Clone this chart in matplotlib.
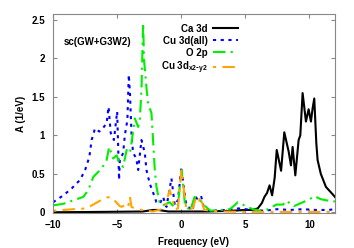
import matplotlib
matplotlib.use("Agg")
import matplotlib.pyplot as plt

plt.rcParams['font.family'] = ['Liberation Sans', 'DejaVu Sans']
plt.rcParams['font.weight'] = 'bold'

# Ca 3d
ca_x = [-10, -6, -3, -2.2, -1.8, -1, 0, 2, 4, 5.0, 5.5, 5.98, 6.3, 6.5, 6.7, 6.9,
        7.1, 7.3, 7.46, 7.8, 8.05, 8.39, 8.57, 8.7, 8.91, 9.17, 9.3, 9.48, 9.74,
        9.95, 10.13, 10.26, 10.39, 10.55, 10.65, 10.9, 11.3, 11.9, 12]
ca_y = [0.0, 0.005, 0.01, 0.03, 0.03, 0.01, 0.01, 0.01, 0.02, 0.03, 0.03, 0.05,
        0.12, 0.2, 0.25, 0.35, 0.22, 0.45, 0.81, 0.54, 1.04, 0.79, 0.61, 0.85,
        0.48, 0.94, 1.0, 1.55, 1.18, 1.34, 1.18, 1.35, 1.48, 0.9, 0.68, 0.5,
        0.33, 0.22, 0.2]

# Cu 3d(all)
cu_x = [-10, -9.2, -8.55, -7.9, -7.5, -7.17, -6.99, -6.73, -6.4, -6.21, -5.82,
        -5.67, -5.5, -5.25, -5.0, -4.92, -4.85, -4.79, -4.53, -4.4, -4.2, -4.09,
        -4.0, -3.87, -3.75, -3.5, -3.36, -3.1, -2.84, -2.71, -2.45, -2.2, -1.93,
        -1.67, -1.42, -1.15, -0.76, -0.5, -0.25, 0.02, 0.2, 0.4, 0.9, 1.05, 1.3,
        1.57, 1.8, 2.5, 3.5, 4.5, 5.5, 6.5, 7.5, 8.5, 9.5, 10.5, 11.5, 12]
cu_y = [0.13, 0.22, 0.31, 0.42, 0.55, 0.72, 0.94, 1.09, 1.05, 1.07, 1.16, 1.37,
        1.03, 0.94, 1.31, 0.85, 0.42, 0.68, 0.77, 1.0, 1.2, 1.79, 1.55, 0.98,
        0.77, 0.7, 0.55, 0.94, 0.77, 0.55, 0.37, 0.26, 0.13, 0.11, 0.2, 0.07,
        0.44, 0.09, 0.16, 0.59, 0.33, 0.09, 0.02, 0.22, 0.16, 0.2, 0.04, 0.02,
        0.03, 0.05, 0.03, 0.02, 0.04, 0.03, 0.04, 0.03, 0.03, 0.04]

# O 2p
o_x = [-10, -9.2, -8.16, -7.64, -7.25, -6.86, -6.21, -5.82, -5.62, -5.31, -5.04,
       -4.79, -4.53, -4.26, -4.0, -3.88, -3.62, -3.36, -3.23, -3.1, -2.97, -2.9,
       -2.84, -2.7, -2.58, -2.45, -2.32, -2.06, -1.93, -1.67, -1.42, -0.9, -0.5,
       -0.25, 0.02, 0.3, 0.7, 1.05, 1.4, 2.0, 2.3, 3.1, 3.8, 4.16, 4.42, 4.8,
       5.3, 5.6, 6.2, 6.8, 7.43, 7.96, 8.2, 8.8, 9.5, 10.03, 10.4, 10.9, 11.5,
       12]
o_y = [0.09, 0.11, 0.17, 0.2, 0.29, 0.46, 0.57, 0.68, 0.85, 0.7, 0.74, 0.63,
       0.59, 0.81, 0.77, 0.9, 1.22, 1.11, 1.2, 1.6, 2.46, 1.98, 1.87, 1.6, 1.42,
       1.35, 1.29, 0.55, 0.33, 0.11, 0.09, 0.13, 0.06, 0.1, 0.55, 0.1, 0.02,
       0.2, 0.17, 0.06, 0.02, 0.03, 0.04, 0.09, 0.13, 0.1, 0.06, 0.04, 0.02,
       0.04, 0.1, 0.1, 0.15, 0.08, 0.13, 0.17, 0.21, 0.17, 0.15, 0.14]

# Cu 3d x2-y2
dx_x = [-10, -8.4, -7.4, -6.34, -5.82, -5.56, -5.3, -4.79, -4.66, -4.27, -4.14,
        -4.0, -3.88, -3.75, -3.1, -2.2, -1.28, -0.9, -0.64, -0.5, -0.25, 0.02,
        0.15, 0.4, 0.9, 1.18, 1.4, 1.5, 1.8, 3, 5, 8, 12]
dx_y = [0.02, 0.04, 0.05, 0.15, 0.19, 0.2, 0.17, 0.08, 0.07, 0.1, 0.07, 0.2,
        0.07, 0.06, 0.03, 0.01, 0.05, 0.29, 0.14, 0.04, 0.05, 0.55, 0.37, 0.04,
        0.05, 0.2, 0.15, 0.2, 0.03, 0.01, 0.005, 0.005, 0.005]

fig = plt.figure(figsize=(3.54, 2.48), dpi=100)
ax = fig.add_axes([0.150, 0.141, 0.796, 0.803])

ax.plot(ca_x, ca_y, color='black', lw=1.5, label='Ca 3d')
ax.plot(cu_x, cu_y, color='#0000ff', lw=1.5, linestyle=(0, (1.5, 2.2)),
        label='Cu 3d(all)')
ax.plot(o_x, o_y, color='#00ee00', lw=1.5, linestyle=(0, (6, 2.5, 1, 2.5)),
        label='O 2p')
ax.plot(dx_x, dx_y, color='#ffa500', lw=1.5, linestyle=(0, (1.5, 3, 6, 3)),
        label=r'Cu 3d$_{\mathregular{x2\text{-}y2}}$')

ax.set_xlim(-10, 12)
ax.set_ylim(-0.01, 2.58)
ax.set_xticks([-10, -5, 0, 5, 10])
ax.set_yticks([0, 0.5, 1, 1.5, 2, 2.5])
ax.set_yticklabels(['0', '0.5', '1', '1.5', '2', '2.5'])
ax.tick_params(direction='in', top=True, right=True, labelsize=7, length=3,
               color='#888888')
ax.tick_params(axis='x', pad=5)
ax.tick_params(axis='y', pad=6)
for s in ax.spines.values():
    s.set_color('#888888')

ax.set_xlabel('Frequency (eV)', fontsize=7, fontweight='bold', labelpad=5)
ax.set_ylabel('A (1/eV)', fontsize=7, fontweight='bold', labelpad=4)

ax.text(-9.2, 2.17, 'sc(GW+G3W2)', fontsize=7, fontweight='bold')

ax.legend(loc='upper right', bbox_to_anchor=(0.68, 0.985), frameon=False,
          markerfirst=False, fontsize=7, handlelength=2.6, labelspacing=0.2,
          handletextpad=0.5, borderaxespad=0.3)

fig.savefig('out.png', dpi=100)
